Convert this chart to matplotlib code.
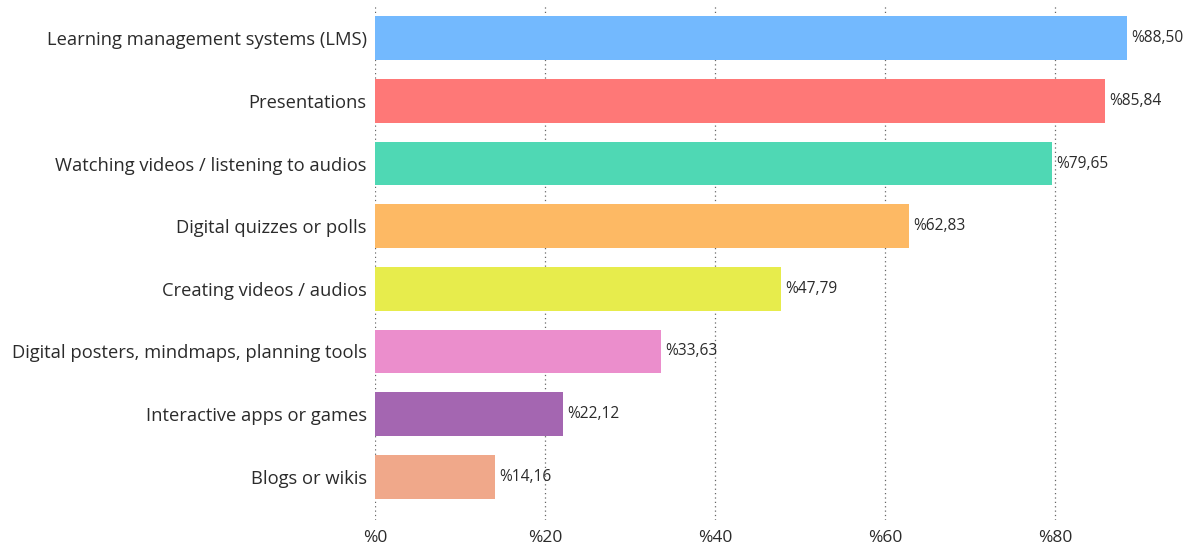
import numpy as np
import matplotlib.pyplot as plt

categories = [
    "Learning management systems (LMS)",
    "Presentations",
    "Watching videos / listening to audios",
    "Digital quizzes or polls",
    "Creating videos / audios",
    "Digital posters, mindmaps, planning tools",
    "Interactive apps or games",
    "Blogs or wikis",
]
values = [88.50, 85.84, 79.65, 62.83, 47.79, 33.63, 22.12, 14.16]
colors = ["#73b9fe", "#fe7877", "#4fd8b4", "#fdb964", "#e7ec4c",
          "#eb8ecc", "#a466b1", "#f0a88a"]
ticks = [0, 20, 40, 60, 80]

plt.rcParams['font.family'] = ['Open Sans', 'DejaVu Sans']

fig = plt.figure(figsize=(11.91, 5.47), dpi=100)
ax = fig.add_axes([375 / 1191, 27 / 547, 816 / 1191, 515 / 547])

y = np.arange(len(categories))
bars = ax.barh(y, values, height=0.7, color=colors, zorder=2)

for b, v in zip(bars, values):
    ax.annotate("%" + f"{v:.2f}".replace(".", ","),
                (b.get_width(), b.get_y() + b.get_height() / 2),
                xytext=(3, 0), textcoords="offset points",
                va="center", ha="left", fontsize=11.2, color="#2b2b2b")

ax.set_xlim(0, 96)
ax.set_ylim(7.69, -0.53)
ax.set_yticks(y)
ax.set_yticklabels(categories, fontsize=13.2, color="#2b2b2b")
ax.set_xticks(ticks)
ax.set_xticklabels(["%" + str(t) for t in ticks], fontsize=12.5, color="#2b2b2b")
ax.tick_params(axis="y", length=0, pad=6)
ax.tick_params(axis="x", length=0, pad=7)
ax.grid(axis="x", linestyle=(0, (1, 2.5)), color="#666666", linewidth=0.9, zorder=0)
for s in ax.spines.values():
    s.set_visible(False)

fig.savefig("out.png", dpi=100)
